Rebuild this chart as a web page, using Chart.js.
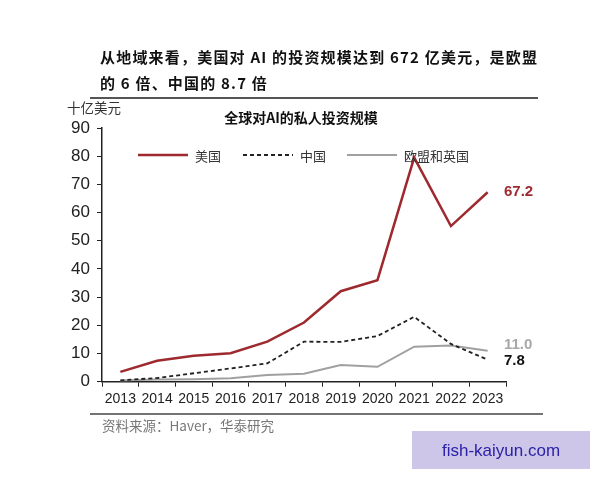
<!DOCTYPE html>
<html>
<head>
<meta charset="utf-8">
<script src="https://cdn.jsdelivr.net/npm/chart.js@4"></script>
<style>
  html, body { margin: 0; padding: 0; background: #fff; }
  #wrap { width: 600px; height: 480px; position: relative; }
</style>
</head>
<body>
<div id="wrap"><canvas id="chart" width="600" height="480"></canvas></div>
<script>
// data
let years = ["2013","2014","2015","2016","2017","2018","2019","2020","2021","2022","2023"];
let usVals = [3.5, 7.4, 9.2, 10.1, 14.2, 21.0, 32.1, 36.0, 79.5, 55.2, 67.2];
let cnVals = [0.5, 1.3, 3.0, 4.7, 6.5, 14.2, 14.1, 16.2, 23.0, 13.4, 7.8];
let euVals = [0.4, 0.8, 0.9, 1.2, 2.4, 2.8, 5.9, 5.3, 12.4, 12.8, 11.0];
let yTicks = [0, 10, 20, 30, 40, 50, 60, 70, 80, 90];

let RED = "#9e2a2f";
let CJK = '"Noto Sans CJK SC", sans-serif';
let NUM = '"Liberation Sans", Arial, sans-serif';

//! everything around the plot: titles, legend, end labels, footer
let decor = {
  id: "decor",
  afterDraw(chart) {
    let c = chart.ctx;
    let y = chart.scales.y;
    c.save();

    // header
    c.fillStyle = "#111";
    c.font = "bold 15px " + CJK;
    c.letterSpacing = "1.2px";
    c.textBaseline = "middle";
    c.textAlign = "left";
    c.fillText("从地域来看，美国对 AI 的投资规模达到 672 亿美元，是欧盟", 100, 57);
    c.fillText("的 6 倍、中国的 8.7 倍", 100, 83);
    c.letterSpacing = "0px";
    c.strokeStyle = "#555";
    c.lineWidth = 2;
    c.beginPath(); c.moveTo(90, 98); c.lineTo(538, 98); c.stroke();

    // unit + chart title
    c.font = "13.5px " + CJK;
    c.fillStyle = "#333";
    c.fillText("十亿美元", 67, 108);
    c.font = "bold 14px " + CJK;
    c.fillStyle = "#111";
    c.textAlign = "center";
    c.fillText("全球对AI的私人投资规模", 301, 118);

    // legend
    let items = [
      { x: 138, col: RED, w: 2.5, dash: [], text: "美国" },
      { x: 243, col: "#222", w: 1.8, dash: [4, 3], text: "中国" },
      { x: 347, col: "#a0a0a0", w: 2, dash: [], text: "欧盟和英国" }
    ];
    c.textAlign = "left";
    c.font = "13px " + CJK;
    items.forEach((it) => {
      c.strokeStyle = it.col;
      c.lineWidth = it.w;
      c.setLineDash(it.dash);
      c.beginPath(); c.moveTo(it.x, 155); c.lineTo(it.x + 50, 155); c.stroke();
      c.setLineDash([]);
      c.fillStyle = "#333";
      c.fillText(it.text, it.x + 57, 156);
    });

    // end labels
    c.font = "bold 15px " + NUM;
    c.fillStyle = RED;
    c.fillText("67.2", 504, y.getPixelForValue(usVals[10]));
    c.fillStyle = "#a8a8a8";
    c.fillText("11.0", 504, y.getPixelForValue(euVals[10]) - 6);
    c.fillStyle = "#111";
    c.fillText("7.8", 504, y.getPixelForValue(cnVals[10]) + 1);

    // footer
    c.strokeStyle = "#444";
    c.lineWidth = 1.5;
    c.beginPath(); c.moveTo(90, 414); c.lineTo(543, 414); c.stroke();
    c.font = "13.5px " + CJK;
    c.fillStyle = "#777";
    c.fillText("资料来源：Haver，华泰研究", 102, 426);

    // watermark box
    c.fillStyle = "#cdc6e8";
    c.fillRect(412, 431, 178, 38);
    c.fillStyle = "#2b22a8";
    c.font = "17px " + NUM;
    c.textAlign = "center";
    c.fillText("fish-kaiyun.com", 501, 451);

    c.restore();
  }
};

let ctx = document.getElementById("chart").getContext("2d");
let MyChart = new Chart(ctx, {
  type: "line",
  data: {
    labels: years,
    datasets: [
      { label: "美国", data: usVals, borderColor: RED, borderWidth: 2.5 },
      { label: "中国", data: cnVals, borderColor: "#222", borderWidth: 1.8, borderDash: [4, 3] },
      { label: "欧盟和英国", data: euVals, borderColor: "#a0a0a0", borderWidth: 2 }
    ]
  },
  options: {
    responsive: false,
    animation: false,
    elements: { point: { radius: 0 }, line: { tension: 0 } },
    layout: { padding: { top: 128, right: 94, left: 0, bottom: 0 } },
    plugins: { legend: { display: false }, title: { display: false }, tooltip: { enabled: false } },
    scales: {
      x: {
        offset: true,
        grid: { offset: true, drawOnChartArea: false, color: "#222", tickLength: 5 },
        border: { color: "#222", width: 1.5 },
        ticks: { color: "#222", font: { family: NUM, size: 14 }, maxRotation: 0, autoSkip: false, padding: 4 },
        afterFit: (s) => { s.height = 98.3; }
      },
      y: {
        min: 0,
        max: 90,
        afterBuildTicks: (s) => { s.ticks = yTicks.map((v) => ({ value: v })); },
        grid: { drawOnChartArea: false, color: "#222", tickLength: 5 },
        border: { color: "#222", width: 1.5 },
        ticks: { color: "#222", font: { family: NUM, size: 17 }, padding: 7 },
        afterFit: (s) => { s.width = 102; }
      }
    }
  },
  plugins: [decor]
});
</script>
</body>
</html>
